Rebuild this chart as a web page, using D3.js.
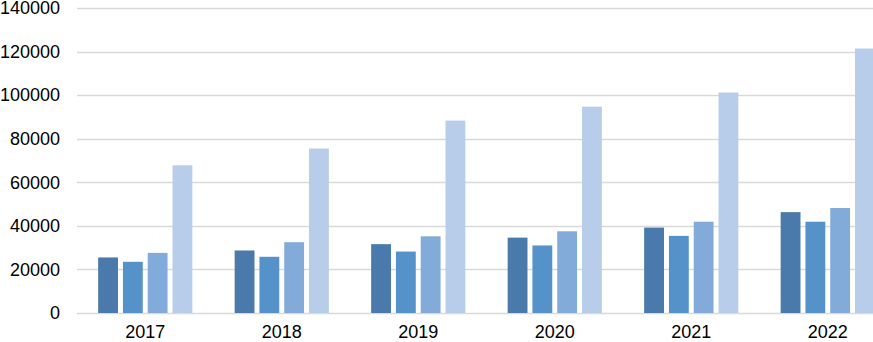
<!DOCTYPE html>
<html>
<head>
<meta charset="utf-8">
<script src="https://cdn.jsdelivr.net/npm/d3@7"></script>
<style>
  body { margin: 0; background: #fff; }
  svg { display: block; }
  .tick text { font-family: "Liberation Sans", Arial, sans-serif; font-size: 18px; fill: #000; }
</style>
</head>
<body>
<script>
// chart data
var years = ["2017", "2018", "2019", "2020", "2021", "2022"];
var series1 = [25500, 28700, 31600, 34600, 39200, 46300];
var series2 = [23500, 25800, 28200, 31000, 35400, 41900];
var series3 = [27600, 32500, 35200, 37500, 41900, 48200];
var series4 = [67800, 75500, 88300, 94700, 101200, 121400];
var yTicks = [0, 20000, 40000, 60000, 80000, 100000, 120000, 140000];

var colors = ["#4a7aab", "#5592c9", "#82abda", "#b7cde9"];
var allSeries = [series1, series2, series3, series4];

var svgWidth = 873;
var svgHeight = 342;

var margin = { top: 8, right: -23, bottom: 29, left: 77 };
var width = svgWidth - margin.left - margin.right;
var height = svgHeight - margin.top - margin.bottom;

var svg = d3.select("body")
  .append("svg")
  .attr("width", svgWidth)
  .attr("height", svgHeight);

var chartGroup = svg.append("g")
  .attr("transform", `translate(${margin.left}, ${margin.top})`);

var xScale = d3.scaleBand()
  .domain(years)
  .range([0, width])
  .paddingInner(0.31)
  .paddingOuter(0.155);

var xInner = d3.scaleBand()
  .domain(d3.range(allSeries.length))
  .range([0, xScale.bandwidth()])
  .paddingInner(0.2);

var yScale = d3.scaleLinear()
  .domain([0, 140000])
  .range([height, 0]);

// gridlines
chartGroup.append("g")
  .selectAll("line")
  .data(yTicks)
  .enter()
  .append("line")
  .attr("x1", 0)
  .attr("x2", width)
  .attr("y1", d => Math.round(yScale(d)) + 0.5)
  .attr("y2", d => Math.round(yScale(d)) + 0.5)
  .attr("stroke", "#d9d9d9")
  .attr("stroke-width", 1.5);

// bars
var groups = chartGroup.selectAll(".year")
  .data(years)
  .enter()
  .append("g")
  .attr("class", "year")
  .attr("transform", d => `translate(${xScale(d)}, 0)`);

groups.selectAll("rect")
  .data((d, i) => allSeries.map((s, k) => ({ k: k, v: s[i] })))
  .enter()
  .append("rect")
  .attr("x", d => xInner(d.k))
  .attr("width", xInner.bandwidth())
  .attr("y", d => yScale(d.v))
  .attr("height", d => height - yScale(d.v))
  .attr("fill", d => colors[d.k]);

// axes
var leftAxis = d3.axisLeft(yScale)
  .tickValues(yTicks)
  .tickFormat(d3.format("d"))
  .tickSize(0)
  .tickPadding(17);
var yAxisG = chartGroup.append("g").call(leftAxis);
yAxisG.select(".domain").remove();

var bottomAxis = d3.axisBottom(xScale).tickSize(0).tickPadding(12);
var xAxisG = chartGroup.append("g")
  .attr("transform", `translate(0, ${height})`)
  .call(bottomAxis);
xAxisG.select(".domain").remove();
</script>
</body>
</html>
